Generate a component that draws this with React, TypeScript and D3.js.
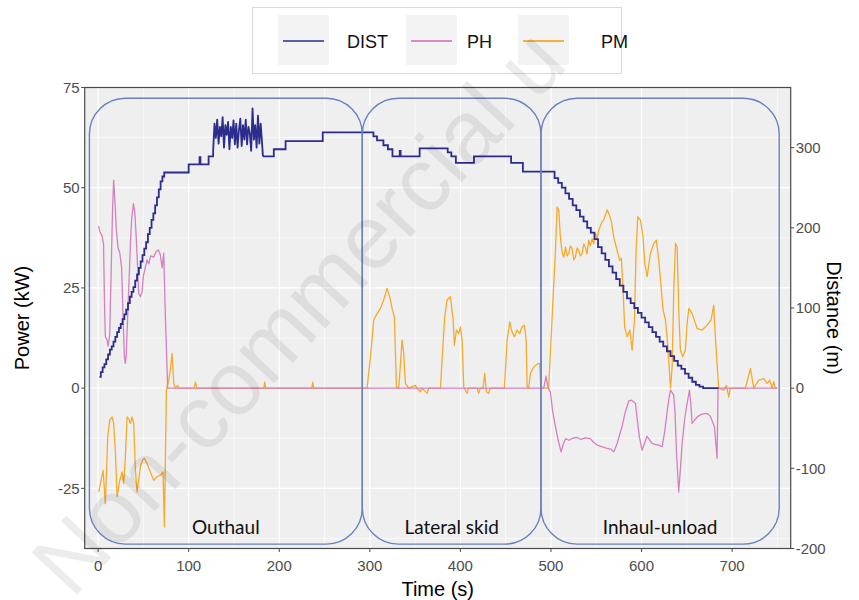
import React from 'react';
import * as d3 from 'd3';

const W = 859;
const H = 600;

// ---- Data ----
const distTime = [1.5, 3, 5, 7, 9, 11, 13, 15, 17, 19, 21, 23, 25, 27, 29, 31, 33, 35, 37, 39, 41, 43, 45, 47, 49, 51, 53, 55, 57, 59, 61, 63, 65, 67, 69, 71, 73, 100, 112, 113, 122,
  127, 128.5, 130, 131.5, 133, 134.5, 136, 137.5, 139, 140.5, 142, 143.5, 145, 146.5, 148, 149.5, 151, 152.5, 154, 155.5, 157, 158.5, 160, 161.5, 163, 164.5, 166, 167.5, 169, 170.5, 172, 173.5, 175, 176.5, 178, 179.5, 181, 182,
  194, 207, 248, 304, 308, 315, 320, 325, 333, 334, 355, 386, 390, 395, 415, 456, 469,
  500, 504, 508, 512, 516, 520, 524, 528, 532, 536, 540, 544, 548, 552, 556, 560, 564, 568, 572, 576, 580, 584, 588, 592, 596, 600, 604, 608, 612, 616, 620, 624, 628, 632, 636, 640, 644, 648, 652, 656, 660, 664, 668, 685];
const distValue = [14, 20, 26, 30, 36, 42, 48, 52, 58, 64, 70, 75, 80, 86, 92, 98, 106, 114, 120, 126, 134, 142, 150, 158, 166, 174, 182, 192, 200, 210, 218, 228, 238, 248, 258, 264, 269, 279, 288, 279, 289,
  296, 330, 312, 335, 305, 326, 314, 338, 300, 328, 316, 332, 298, 326, 312, 334, 304, 330, 300, 322, 336, 302, 328, 310, 335, 304, 326, 318, 296, 349, 310, 328, 300, 340, 305, 330, 306, 289,
  298, 308, 319, 314, 309, 303, 298, 289, 296, 289, 299, 294, 289, 281, 289, 281, 270,
  270, 262, 256, 250, 243, 236, 228, 222, 214, 208, 200, 194, 186, 176, 168, 160, 152, 144, 136, 128, 120, 112, 106, 100, 94, 88, 82, 76, 70, 64, 58, 52, 46, 40, 34, 28, 24, 18, 13, 8, 4, 2, 0, 0];
// time window in which the distance signal is noisy (drawn as a plain polyline)
const distNoisyFrom = 127;
const distNoisyTo = 182;

const phTime = [0.5, 2, 4.4, 6, 7, 8, 10, 11, 12.8, 14.5, 16, 17.2, 18.5, 20, 22, 24, 26, 27.5, 29, 30, 31, 33, 35.7, 37, 39, 40.5, 42, 43.7, 44.8, 46.7, 48.5, 50, 52, 54, 55.9, 58, 61.4, 64, 66.5, 68.8, 70.7, 72.5, 74, 76.8,
  492, 494.6, 496, 497, 499.4, 502, 505, 508, 511.2, 513.5, 516, 520, 524, 528.9, 533, 538, 543.5, 547, 551, 556, 562, 566, 569.3, 571, 573, 576, 578.5, 582, 585.9, 589, 593.3, 595, 597.5, 600.6, 603, 606, 608.5, 611.6, 615, 619, 622.7, 625.5, 628, 630, 631.9, 635.5, 637, 638.5, 641, 643, 644.8, 647.5, 650.3, 652.9, 654.5, 655.8, 658.5, 661.4, 664, 667, 672.4, 676, 680.5, 683.4, 684.5, 750];
const phValue = [40.4, 39, 38, 36, 22, 12.8, 12, 10.5, 13.2, 30, 45, 51.9, 47, 40, 35, 33.7, 30, 18, 8, 6.2, 8, 20, 36, 42, 46, 44, 38, 30, 23.6, 22.8, 24, 28, 30, 32, 31, 33, 32.7, 34, 34.5, 33.2, 30, 33.7, 20, 0,
  0, 3, 1, 0, -1, -6, -9.6, -13, -15.9, -14, -12.6, -13, -12.5, -12.3, -12.8, -12.4, -12.6, -13.5, -14.2, -14.6, -15, -15.2, -15.9, -15, -13.8, -11.5, -9.6, -6, -3.2, -3, -3.8, -7.2, -12, -15.5, -14, -12, -12.8, -13.8, -14, -14.2, -14.6, -11, -6.3, -3, -0.5, -1.7, -6, -15.5, -25.9, -20, -13.8, -8, -3.8, -0.5, -4, -8.8, -8, -7.2, -6.8, -6.5, -6.3, -7, -9.6, -17.5, 0, 0];

const pmTime = [0.7, 3.3, 5.5, 8, 10.6, 12.8, 15.4, 17.2, 19, 21, 23.9, 26.5, 28.3, 30.1, 32, 33.8, 35.7, 37.5, 39.3, 41.2, 43, 46.7, 49, 51.1, 54.1, 57.7, 61.4, 65.1, 68.8, 71.7, 73.2, 75.4, 78, 80, 81.7, 83.5, 85.3, 87.9, 89,
  106, 107.4, 109, 183, 184, 185, 236, 237, 238,
  297, 300.7, 304.3, 308, 311.7, 315.3, 319, 322, 324.6, 327.1, 329.4, 332, 335.6, 337.4, 339.3, 343, 350.3, 352, 355.9, 357.5, 363.3, 365,
  378, 380, 382.7, 385.3, 389, 392, 393.4, 395.6, 398.2, 400, 401.9, 403.7, 407.4, 409, 418.5, 420.2, 422, 425, 426.9, 428.7, 431.3, 433,
  448.6, 451.6, 454.5, 457.1, 459.6, 462.6, 465.5, 468.1, 470.7, 472.6, 473.7, 475.4, 477.3, 481, 484.7, 487.6, 488.8,
  497.5, 501.3, 505, 506.8, 508.6, 510.4, 512.2, 514.1, 516, 517.8, 519.6, 521.5, 523.4, 525.2, 527, 528.9, 530.7, 532.5, 534.4, 536.2, 538, 539.8, 541.7, 543.5, 545.4, 547.2, 549.1, 551, 552.8, 554.6, 556.5, 558.3, 560.1, 562, 563.8, 566.4, 569.3, 573, 575.9, 577.8, 579.6, 581.4, 584.1, 587, 589.6, 592.2, 594, 595.8, 598.8, 601.7, 603.5, 606.2, 609.8, 613.5, 616.4, 619, 621.6, 623.8, 626.4, 628.2, 630, 632, 633.8, 635.6, 637.5, 639.3, 641.1, 642.9, 645.5, 648.5, 650.3, 652.2, 655.9, 661.4, 666.9, 672.4, 676.8, 679.7, 681.5, 683.4, 685.2,
  690.7, 693.7, 696.3, 698.1, 714.7, 720.2, 723.9, 729.4, 734.9, 738.7, 741.5, 744.2, 746, 747.8, 750];
const pmValue = [-25.9, -23, -20.5, -28.8, -12.1, -8, -7.2, -8.8, -15.5, -27, -23, -20.9, -23.8, -17.1, -7.2, -7.6, -8.8, -7.2, -8.8, -20.5, -25.9, -19.6, -18, -17.5, -18.8, -20.9, -23, -22.1, -21.7, -20.9, -34.6, -0.5, 2, 5, 8.7, 1.2, 0, 0.7, 0,
  0, 1.5, 0, 0, 1.5, 0, 0, 1.5, 0,
  0, 7.8, 17, 18.6, 19.9, 22, 24.9, 22.8, 19.9, 17.8, 0.3, 0, 12, 8.7, 1.2, 0, 0.7, 0, -0.9, 0, -1.3, 0,
  0, 8, 17.8, 22, 22.8, 17, 10.7, 14.5, 13.6, 15.3, 12, 0.3, -1.3, 0, 0, -1.3, 0, 0, 3.7, -0.9, -1.3, 0,
  0, 12, 16.5, 14, 12.8, 14.5, 13.6, 15.3, 15.7, 12, 0.3, 0, 3.7, 5.3, 6, 6.2, 0,
  0, 17.8, 34.4, 45.2, 44.4, 37.7, 34, 32.7, 35.2, 33, 33.6, 35.5, 34.8, 32, 32.7, 35, 34.4, 33, 33.6, 36, 35.2, 33.5, 36.9, 35.5, 37.3, 36, 38.6, 37.5, 39.4, 40.5, 41.5, 42, 43.2, 44.5, 43.6, 41.9, 37.7, 34.4, 31.9, 32.4, 24.4, 15.3, 12.8, 14.5, 9.5, 17, 34.4, 42.7, 41.9, 37.7, 31.1, 27.8, 33.6, 36.1, 36.9, 31.9, 25.3, 19.5, 17, 12.8, 7, 0, 5.3, 24.4, 36.1, 35.2, 19.5, 9.5, 7.8, 9.5, 16.1, 19.9, 18.6, 14.9, 14.5, 15.7, 17, 20.7, 12.8, 6.2, 0,
  -0.5, 0.7, -2.2, 0, 0, 4.9, 0, 2, 2.4, 1.2, 2, 0, 1.6, 0, 0];

const phaseNames = ['Outhaul', 'Lateral skid', 'Inhaul-unload'];
const phaseStart = [-9.6, 291.7, 489];
const phaseEnd = [291.7, 489, 752];

const xTicks = [0, 100, 200, 300, 400, 500, 600, 700];
const yTicks = [-25, 0, 25, 50, 75];
const y2Ticks = [-200, -100, 0, 100, 200, 300];

const seriesNames = ['DIST', 'PH', 'PM'];
const seriesColors = ['#2b2c8c', '#d580bf', '#f7a92a'];

// ---- Layout ----
const L = 84.7, R = 790.7, T = 87.5, B = 548.5;
const x = d3.scaleLinear().domain([-14.8, 764.7]).range([L, R]);
const y = d3.scaleLinear().domain([-40, 75]).range([B, T]);
const y2 = d3.scaleLinear().domain([-200, 375]).range([B, T]);

const xMinor = d3.range(50, 800, 100).filter(v => x(v) < R);
const yMinor = [-37.5, -12.5, 12.5, 37.5, 62.5];

export default function App() {
  const distData = distTime.map((t, i) => [t, distValue[i]] as [number, number]);
  const phData = phTime.map((t, i) => [t, phValue[i]] as [number, number]);
  const pmData = pmTime.map((t, i) => [t, pmValue[i]] as [number, number]);

  const distBefore = distData.filter(d => d[0] <= distNoisyFrom);
  const distNoisy = distData.filter(d => d[0] >= distNoisyFrom && d[0] <= distNoisyTo);
  const distAfter = distData.filter(d => d[0] >= distNoisyTo);

  const powerLine = d3.line<[number, number]>().x(d => x(d[0])).y(d => y(d[1]));
  const distStep = d3.line<[number, number]>().x(d => x(d[0])).y(d => y2(d[1])).curve(d3.curveStepAfter);
  const distLinear = d3.line<[number, number]>().x(d => x(d[0])).y(d => y2(d[1]));

  const tickFont = { fontFamily: '"Liberation Sans", Arial, sans-serif', fontSize: 15, fill: '#4d4d4d' } as const;
  const titleFont = { fontFamily: '"Liberation Sans", Arial, sans-serif', fontSize: 20, fill: '#000' } as const;

  const boxTop = y(72.3);
  const boxBottom = y(-38.9);

  const legendItems = [
    { bx: 278, lx1: 283, lx2: 324, tx: 347 },
    { bx: 406, lx1: 411, lx2: 452, tx: 467 },
    { bx: 518, lx1: 523, lx2: 564, tx: 601 },
  ];

  return (
    <svg width={W} height={H} style={{ position: 'absolute', left: 0, top: 0, display: 'block', background: '#fff' }}>
      <rect x={0} y={0} width={W} height={H} fill="#fff" />
      {/* panel */}
      <rect x={L} y={T} width={R - L} height={B - T} fill="#efefef" />
      {xMinor.map(v => <line key={'xm' + v} x1={x(v)} x2={x(v)} y1={T} y2={B} stroke="#fff" strokeWidth={0.6} />)}
      {yMinor.map(v => <line key={'ym' + v} x1={L} x2={R} y1={y(v)} y2={y(v)} stroke="#fff" strokeWidth={0.6} />)}
      {xTicks.map(v => <line key={'xg' + v} x1={x(v)} x2={x(v)} y1={T} y2={B} stroke="#fff" strokeWidth={1.2} />)}
      {yTicks.map(v => <line key={'yg' + v} x1={L} x2={R} y1={y(v)} y2={y(v)} stroke="#fff" strokeWidth={1.2} />)}

      {/* series */}
      <path d={powerLine(pmData) || ''} fill="none" stroke={seriesColors[2]} strokeWidth={1.3} strokeLinejoin="round" />
      <path d={powerLine(phData) || ''} fill="none" stroke={seriesColors[1]} strokeWidth={1.3} strokeLinejoin="round" />
      <path d={distStep(distBefore) || ''} fill="none" stroke={seriesColors[0]} strokeWidth={1.8} />
      <path d={distLinear(distNoisy) || ''} fill="none" stroke={seriesColors[0]} strokeWidth={1.8} strokeLinejoin="round" />
      <path d={distStep(distAfter) || ''} fill="none" stroke={seriesColors[0]} strokeWidth={1.8} />

      {/* phase boxes */}
      {phaseNames.map((name, i) => (
        <g key={name}>
          <rect x={x(phaseStart[i])} y={boxTop} width={x(phaseEnd[i]) - x(phaseStart[i])} height={boxBottom - boxTop}
            rx={36} ry={36} fill="none" stroke="#6a80bd" strokeWidth={1.4} />
          <text x={x((phaseStart[i] + phaseEnd[i]) / 2)} y={y(-36.5)} textAnchor="middle"
            style={{ fontFamily: 'Lato, "Open Sans", sans-serif', fontSize: 19, fill: '#111' }}>{name}</text>
        </g>
      ))}

      {/* panel border */}
      <rect x={L} y={T} width={R - L} height={B - T} fill="none" stroke="#4a4a4a" strokeWidth={1.2} />

      {/* left axis */}
      {yTicks.map(v => (
        <g key={'yt' + v}>
          <line x1={L - 3.5} x2={L} y1={y(v)} y2={y(v)} stroke="#4a4a4a" strokeWidth={1} />
          <text x={L - 5} y={y(v)} dy="0.35em" textAnchor="end" style={tickFont}>{v}</text>
        </g>
      ))}
      {/* right axis */}
      {y2Ticks.map(v => (
        <g key={'y2t' + v}>
          <line x1={R} x2={R + 3.5} y1={y2(v)} y2={y2(v)} stroke="#4a4a4a" strokeWidth={1} />
          <text x={R + 5} y={y2(v)} dy="0.35em" textAnchor="start" style={tickFont}>{v}</text>
        </g>
      ))}
      {/* bottom axis */}
      {xTicks.map(v => (
        <g key={'xt' + v}>
          <line x1={x(v)} x2={x(v)} y1={B} y2={B + 3.5} stroke="#4a4a4a" strokeWidth={1} />
          <text x={x(v)} y={B + 22} textAnchor="middle" style={tickFont}>{v}</text>
        </g>
      ))}

      {/* titles */}
      <text x={(L + R) / 2} y={596} textAnchor="middle" style={titleFont}>Time (s)</text>
      <text transform={`translate(29,${(T + B) / 2}) rotate(-90)`} textAnchor="middle" style={titleFont}>Power (kW)</text>
      <text transform={`translate(827,${(T + B) / 2}) rotate(90)`} textAnchor="middle" style={titleFont}>Distance (m)</text>

      {/* legend */}
      <rect x={252.5} y={7.5} width={369} height={66} fill="#fff" stroke="#d9d9d9" strokeWidth={1} />
      {seriesNames.map((s, i) => (
        <g key={s}>
          <rect x={legendItems[i].bx} y={15} width={51} height={50} fill="#f3f3f3" />
          <line x1={legendItems[i].lx1} x2={legendItems[i].lx2} y1={41} y2={41} stroke={seriesColors[i]} strokeWidth={1.8} opacity={i === 0 ? 0.75 : 0.9} />
          <text x={legendItems[i].tx} y={48} style={{ fontFamily: '"Liberation Sans", Arial, sans-serif', fontSize: 18, fill: '#111' }}>{s}</text>
        </g>
      ))}

      {/* watermark */}
      <text transform="translate(72,600) rotate(-47)" style={{ fontFamily: '"Liberation Sans", Arial, sans-serif', fontSize: 90, fill: '#000', opacity: 0.07 }}>Non-commercial u</text>
    </svg>
  );
}
